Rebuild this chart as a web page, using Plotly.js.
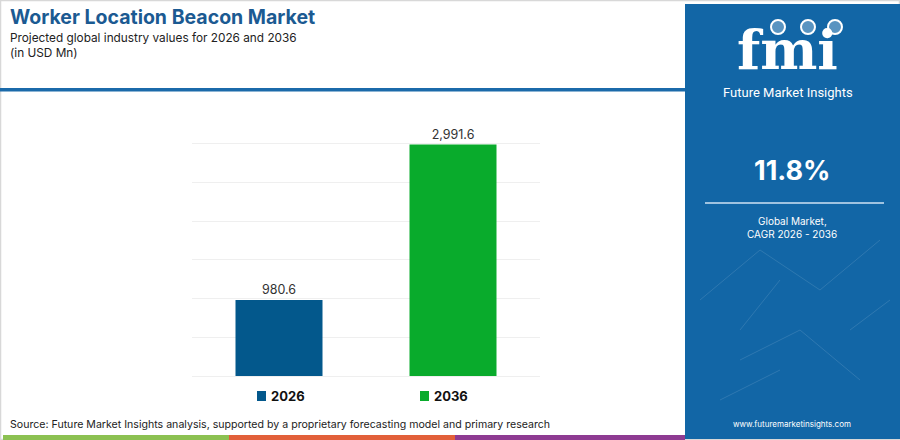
<!DOCTYPE html>
<html>
<head>
<meta charset="utf-8">
<script src="https://cdn.plot.ly/plotly-3.0.1.min.js"></script>
<style>html,body{margin:0;padding:0;background:#fff;}#chart{width:900px;height:440px;}</style>
</head>
<body>
<div id="chart"></div>
<script>
const categories = ["2026", "2036"];
const values = [980.6, 2991.6];
const valueLabels = ["980.6", "2,991.6"];
const barColors = ["#03588c", "#09ab2c"];
const cagrText = "11.8%";

// pixel -> paper helpers (plot area 192..540 x, 105..376 y)
const L = 192, R = 540, T = 105, B = 376;
const px = x => (x - L) / (R - L);
const py = y => (B - y) / (B - T);

const font = "Inter, 'Open Sans', sans-serif";

const traces = categories.map((c, i) => ({
  type: "bar",
  x: [c],
  y: [values[i]],
  name: c,
  marker: { color: barColors[i] },
  text: [valueLabels[i]],
  textposition: "outside",
  textfont: { family: font, size: 12.5, color: "#333" },
  cliponaxis: false,
  hoverinfo: "skip",
  showlegend: false
}));

const panelBlue = "#1266a6";
const shapes = [
  { type: "rect", xref: "paper", yref: "paper", x0: px(0.5), x1: px(899.5), y0: py(439.5), y1: py(0.5), line: { color: "#d8d8d8", width: 1.5 }, fillcolor: "rgba(0,0,0,0)", layer: "below" },
  { type: "rect", xref: "paper", yref: "paper", x0: px(685), x1: px(900), y0: py(439), y1: py(4), line: { width: 0 }, fillcolor: panelBlue, layer: "below" },
  { type: "rect", xref: "paper", yref: "paper", x0: px(0), x1: px(685), y0: py(91.5), y1: py(88), line: { width: 0 }, fillcolor: "#1b6aaa" },
  { type: "line", xref: "paper", yref: "paper", x0: px(705), x1: px(884), y0: py(203), y1: py(203), line: { color: "#cfe3f3", width: 1.5 } },
  { type: "rect", xref: "paper", yref: "paper", x0: px(3), x1: px(229), y0: py(440), y1: py(435), line: { width: 0 }, fillcolor: "#8cc152" },
  { type: "rect", xref: "paper", yref: "paper", x0: px(229), x1: px(455), y0: py(440), y1: py(435), line: { width: 0 }, fillcolor: "#e2603a" },
  { type: "rect", xref: "paper", yref: "paper", x0: px(455), x1: px(685), y0: py(440), y1: py(435), line: { width: 0 }, fillcolor: "#8e3b92" },
  { type: "circle", xref: "paper", yref: "paper", x0: px(771), x1: px(785), y0: py(34), y1: py(20), line: { color: "#fff", width: 2 }, fillcolor: "rgba(255,255,255,0.3)" },
  { type: "circle", xref: "paper", yref: "paper", x0: px(801), x1: px(815), y0: py(34), y1: py(20), line: { color: "#fff", width: 2 }, fillcolor: "rgba(255,255,255,0.3)" },
  { type: "circle", xref: "paper", yref: "paper", x0: px(828), x1: px(842), y0: py(34), y1: py(20), line: { color: "#fff", width: 2 }, fillcolor: "rgba(255,255,255,0.3)" },
  // legend swatches
  { type: "rect", xref: "paper", yref: "paper", x0: px(257), x1: px(266), y0: py(401), y1: py(391), line: { width: 0 }, fillcolor: barColors[0] },
  { type: "rect", xref: "paper", yref: "paper", x0: px(420), x1: px(429), y0: py(401), y1: py(391), line: { width: 0 }, fillcolor: barColors[1] }
];

const net = [[700,300,760,250],[760,250,820,290],[820,290,880,240],[740,360,800,330],[800,330,860,380],[720,400,780,370],[850,330,890,300],[780,280,740,330]];
net.forEach(n => shapes.push({ type: "line", xref: "paper", yref: "paper", x0: px(n[0]), y0: py(n[1]), x1: px(n[2]), y1: py(n[3]), line: { color: "rgba(255,255,255,0.12)", width: 1 }, layer: "below" }));

const ann = (text, x, y, size, color, anchor, fam) => ({ text, xref: "paper", yref: "paper", x: px(x), y: py(y), xanchor: anchor || "left", yanchor: "middle", showarrow: false, font: { family: fam || font, size, color } });

const annotations = [
  ann("<b>Worker Location Beacon Market</b>", 8, 17, 19.5, "#1b5a92"),
  ann("Projected global industry values for 2026 and 2036", 8, 38, 11.8, "#222"),
  ann("(in USD Mn)", 8, 53, 11.8, "#222"),
  ann("Source: Future Market Insights analysis, supported by a proprietary forecasting model and primary research", 8, 424, 10.6, "#222"),
  ann("<b>fmi</b>", 787, 50, 54, "#ffffff", "center", "'DejaVu Serif', serif"),
  ann("Future Market Insights", 788, 93, 13, "#ffffff", "center", "Roboto, sans-serif"),
  ann("<b>" + cagrText + "</b>", 792, 170, 27, "#ffffff", "center"),
  ann("Global Market,", 792, 221, 10, "#ffffff", "center"),
  ann("CAGR 2026 - 2036", 792, 234, 10, "#ffffff", "center"),
  ann("www.futuremarketinsights.com", 792, 424, 8, "#ffffff", "center"),
  ann("<b>" + categories[0] + "</b>", 269, 396, 13, "#111"),
  ann("<b>" + categories[1] + "</b>", 432, 396, 13, "#111")
];

const layout = {
  width: 900, height: 440,
  margin: { l: L, r: 900 - R, t: T, b: 440 - B, pad: 0 },
  paper_bgcolor: "#ffffff", plot_bgcolor: "#ffffff",
  bargap: 0.5,
  showlegend: false,
  xaxis: { showticklabels: false, showgrid: false, zeroline: false, showline: false, ticks: "", fixedrange: true, categoryorder: "array", categoryarray: categories },
  yaxis: { range: [0, 3502], tickvals: [0, 500, 1000, 1500, 2000, 2500, 3000, 3500], showticklabels: false, showgrid: true, gridcolor: "#efefef", gridwidth: 1, zeroline: true, zerolinecolor: "#efefef", zerolinewidth: 1, showline: false, ticks: "", fixedrange: true },
  shapes: shapes,
  annotations: annotations
};

Plotly.newPlot("chart", traces, layout, { displayModeBar: false, staticPlot: true });
</script>
</body>
</html>
